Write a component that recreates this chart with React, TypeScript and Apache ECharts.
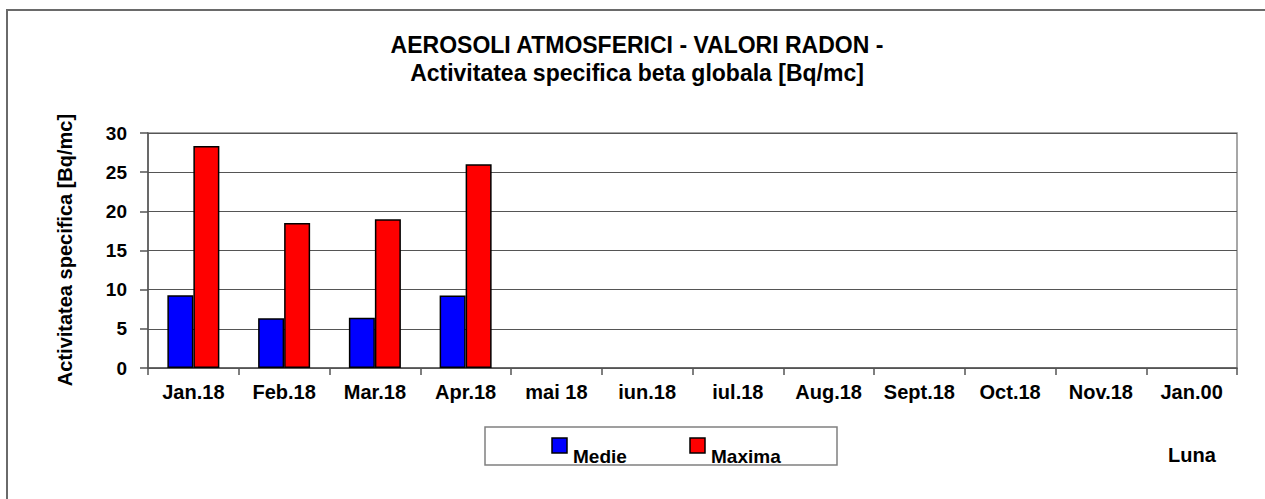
import React, { useEffect, useRef } from "react";
import * as echarts from "echarts";

const categories = ["Jan.18", "Feb.18", "Mar.18", "Apr.18", "mai 18", "iun.18", "iul.18", "Aug.18", "Sept.18", "Oct.18", "Nov.18", "Jan.00"];
const medie: (number | null)[] = [9.3, 6.35, 6.4, 9.25, null, null, null, null, null, null, null, null];
const maxima: (number | null)[] = [28.35, 18.5, 19.0, 26.0, null, null, null, null, null, null, null, null];
const seriesNames = ["Medie", "Maxima"];
const seriesColors = ["#0000ff", "#ff0000"];
const titleLines = ["AEROSOLI ATMOSFERICI - VALORI RADON -", "Activitatea specifica beta globala [Bq/mc]"];
const yAxisName = "Activitatea specifica [Bq/mc]";
const xAxisName = "Luna";

const FONT = "'Liberation Sans', Arial, sans-serif";

export default function App() {
  const ref = useRef<HTMLDivElement>(null);
  useEffect(() => {
    document.body.style.margin = "0";
    document.documentElement.style.overflow = "hidden";
    const chart = echarts.init(ref.current!, null, { renderer: "svg" });
    const legendX = [552, 690];
    const legendItems = seriesNames.flatMap((name, i) => [
      { type: "rect", shape: { x: legendX[i], y: 438, width: 15, height: 15 }, style: { fill: seriesColors[i], stroke: "#000", lineWidth: 1.5 }, z: 5 },
      { type: "text", x: legendX[i] + 21, y: 456, style: { text: name, fontFamily: FONT, fontSize: 19, fontWeight: "bold", fill: "#000", verticalAlign: "middle" }, z: 5 },
    ]);
    chart.setOption({
      animation: false,
      backgroundColor: "#ffffff",
      textStyle: { fontFamily: FONT },
      title: {
        text: titleLines.join("\n"),
        left: 632,
        top: 26,
        textAlign: "center",
        textStyle: { fontFamily: FONT, fontSize: 23, fontWeight: "bold", color: "#000", lineHeight: 28 },
      },
      graphic: [
        { type: "line", shape: { x1: 7, y1: 9, x2: 7, y2: 499 }, style: { stroke: "#6a6a6a", lineWidth: 2 }, silent: true, z: -1 },
        { type: "line", shape: { x1: 6, y1: 10, x2: 1265, y2: 10 }, style: { stroke: "#6a6a6a", lineWidth: 2 }, silent: true, z: -1 },
        { type: "rect", shape: { x: 485, y: 427, width: 352, height: 38 }, style: { fill: "#fff", stroke: "#808080", lineWidth: 1.5 }, z: 0 },
        ...legendItems,
        { type: "text", x: 1192, y: 455, style: { text: xAxisName, fontFamily: FONT, fontSize: 20, fontWeight: "bold", fill: "#000", align: "center", verticalAlign: "middle" } },
        { type: "text", x: 65, y: 250, rotation: Math.PI / 2, style: { text: yAxisName, fontFamily: FONT, fontSize: 20, fontWeight: "bold", fill: "#000", align: "center", verticalAlign: "middle" } },
      ],
      grid: { left: 148, right: 28, top: 133, bottom: 131, show: true, borderColor: "#8a8a8a", borderWidth: 1.5 },
      xAxis: {
        type: "category",
        data: categories,
        axisLine: { lineStyle: { color: "#555", width: 1.5 } },
        axisTick: { show: true, length: 7, lineStyle: { color: "#555", width: 1.5 } },
        axisLabel: { fontFamily: FONT, fontSize: 20, fontWeight: "bold", color: "#000", margin: 14, interval: 0 },
      },
      yAxis: {
        type: "value",
        min: 0,
        max: 30,
        interval: 5,
        axisLine: { show: true, lineStyle: { color: "#555", width: 1.5 } },
        axisTick: { show: true, length: 8, lineStyle: { color: "#555", width: 1.5 } },
        axisLabel: { fontFamily: FONT, fontSize: 19, fontWeight: "bold", color: "#000", margin: 21 },
        splitLine: { lineStyle: { color: "#555", width: 1.2 } },
      },
      series: seriesNames.map((name, i) => ({
        name,
        type: "bar",
        data: i === 0 ? medie : maxima,
        barWidth: 26,
        barGap: "0%",
        itemStyle: { color: seriesColors[i], borderColor: "#000", borderWidth: 1.5 },
      })),
    });
    return () => chart.dispose();
  }, []);
  return <div ref={ref} style={{ width: 1265, height: 499, overflow: "hidden" }} />;
}
